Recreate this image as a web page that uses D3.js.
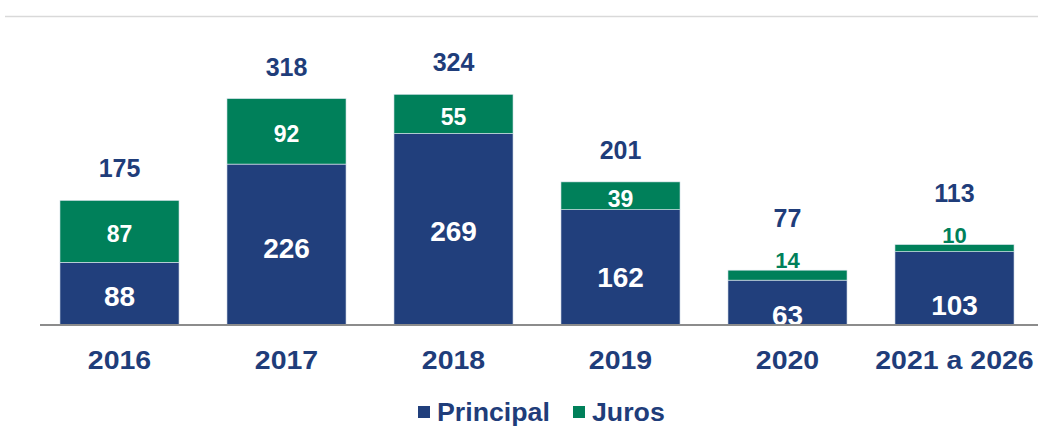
<!DOCTYPE html>
<html><head><meta charset="utf-8">
<script src="https://cdn.jsdelivr.net/npm/d3@7"></script>
<style>body{margin:0;background:#fff}svg{display:block;font-family:"Liberation Sans",Arial,sans-serif;font-weight:bold}</style>
</head><body><svg id="c" width="1038" height="427"></svg>
<script>
const categories = ["2016","2017","2018","2019","2020","2021 a 2026"];
const principal = [88,226,269,162,63,103];
const juros = [87,92,55,39,14,10];
const totals = [175,318,324,201,77,113];
const seriesNames = ["Principal","Juros"];

const BLUE = "#213F7C", GREEN = "#00805A", TXT = "#1F3D7A";
const svg = d3.select("#c");
const base = 325;
const x = d3.scaleBand().domain(categories).range([36,1038]).paddingInner(0.287).paddingOuter(0.1435);
const y = d3.scaleLinear().domain([0,400]).range([base, base - 400*0.712]);

svg.append("line").attr("x1",5).attr("x2",1038).attr("y1",16.5).attr("y2",16.5).attr("stroke","#d9d9d9").attr("stroke-width",1.5);

const rows = categories.map((c,i)=>({c, i, p:principal[i], j:juros[i], t:totals[i]}));
const g = svg.append("g");
g.selectAll("rect.p").data(rows).join("rect").attr("class","p")
  .attr("x",d=>x(d.c)).attr("width",x.bandwidth())
  .attr("y",d=>y(d.p)).attr("height",d=>y(0)-y(d.p)).attr("fill",BLUE)
  .attr("stroke","#dfe6f0").attr("stroke-width",0.6);
g.selectAll("rect.j").data(rows).join("rect").attr("class","j")
  .attr("x",d=>x(d.c)).attr("width",x.bandwidth())
  .attr("y",d=>y(d.p+d.j)).attr("height",d=>y(d.p)-y(d.p+d.j)).attr("fill",GREEN)
  .attr("stroke","#dfe6f0").attr("stroke-width",0.6);

svg.append("line").attr("x1",40).attr("x2",1038).attr("y1",base).attr("y2",base).attr("stroke","#8c8c8c").attr("stroke-width",2);

const cx = d=>x(d.c)+x.bandwidth()/2;
// label nudges (px) to mimic the original label placement
const pNudge = [2,3,2,10,12,17];
g.selectAll("text.pl").data(rows).join("text").attr("class","pl")
  .attr("x",cx).attr("text-anchor","middle").attr("fill","#fff").attr("font-size",28)
  .attr("y",d=>(y(0)+y(d.p))/2 + 10 + pNudge[d.i])
  .text(d=>d.p);
const small = d=>(y(d.p)-y(d.p+d.j))<20;
g.selectAll("text.jl").data(rows).join("text").attr("class","jl")
  .attr("x",cx).attr("text-anchor","middle")
  .attr("fill",d=>small(d)?GREEN:"#fff")
  .attr("font-size",d=>small(d)?22:23)
  .attr("y",d=>small(d) ? y(d.p+d.j)-2 : (y(d.p)+y(d.p+d.j))/2+11)
  .text(d=>d.j);
g.selectAll("text.tl").data(rows).join("text").attr("class","tl")
  .attr("x",cx).attr("text-anchor","middle").attr("fill",TXT).attr("font-size",25)
  .attr("y",d=>y(d.t) - (small(d)?43:23))
  .text(d=>d.t);

const xa = svg.append("g").attr("transform",`translate(0,${base})`)
  .call(d3.axisBottom(x).tickSize(0).tickPadding(0));
xa.select(".domain").remove();
xa.selectAll("text").attr("font-size",25).attr("fill",TXT).attr("font-family","Liberation Sans, Arial, sans-serif").attr("font-weight","bold")
  .attr("dy",null).attr("y",0)
  .attr("transform","translate(0,44) scale(1.14,1)");

const leg = svg.append("g");
const items = [{n:seriesNames[0],c:BLUE,x:418},{n:seriesNames[1],c:GREEN,x:573}];
items.forEach(it=>{
  leg.append("rect").attr("x",it.x).attr("y",406).attr("width",12).attr("height",12).attr("fill",it.c);
  leg.append("text").attr("x",it.x+19).attr("y",421).attr("font-size",25).attr("fill",TXT)
    .attr("transform",`translate(${(it.x+19)*(1-1.07)},0) scale(1.07,1)`).text(it.n);
});
</script></body></html>
